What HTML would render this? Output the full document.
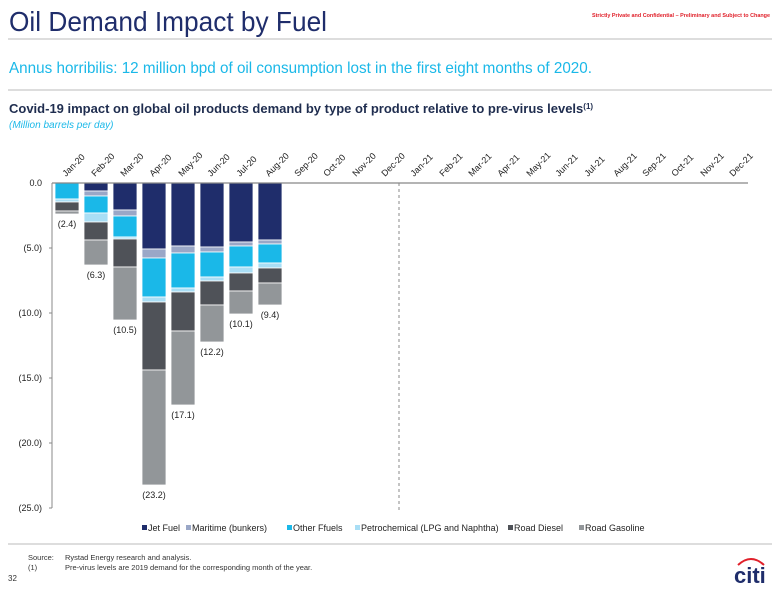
<!DOCTYPE html>
<html><head><meta charset="utf-8"><style>
body{margin:0;background:#fff;width:780px;height:585px;overflow:hidden;font-family:"Liberation Sans",sans-serif}
</style></head><body>
<svg width="780" height="585" xmlns="http://www.w3.org/2000/svg" font-family="Liberation Sans, sans-serif">
<text x="9" y="31" font-size="28" fill="#1f2d6b" textLength="318" lengthAdjust="spacingAndGlyphs">Oil Demand Impact by Fuel</text>
<text x="592" y="17" font-size="5.5" fill="#e0202a" font-weight="bold" textLength="178" lengthAdjust="spacingAndGlyphs">Strictly Private and Confidential – Preliminary and Subject to Change</text>
<line x1="8" y1="39" x2="772" y2="39" stroke="#bbb" stroke-width="1"/>
<text x="9" y="73" font-size="16" fill="#1ab8e8" textLength="583" lengthAdjust="spacingAndGlyphs">Annus horribilis: 12 million bpd of oil consumption lost in the first eight months of 2020.</text>
<line x1="8" y1="90" x2="772" y2="90" stroke="#bbb" stroke-width="1"/>
<text x="9" y="113" font-size="13" font-weight="bold" fill="#1f2d4f">Covid-19 impact on global oil products demand by type of product relative to pre-virus levels<tspan font-size="8" dy="-4">(1)</tspan></text>
<text x="9" y="128" font-size="10" font-style="italic" fill="#1ab8e8">(Million barrels per day)</text>

<g font-size="9" fill="#222">
<text x="42" y="186" text-anchor="end">0.0</text>
<text x="42" y="251" text-anchor="end">(5.0)</text>
<text x="42" y="316" text-anchor="end">(10.0)</text>
<text x="42" y="381" text-anchor="end">(15.0)</text>
<text x="42" y="446" text-anchor="end">(20.0)</text>
<text x="42" y="511" text-anchor="end">(25.0)</text>
</g>
<g stroke="#888" stroke-width="1">
<line x1="52" y1="183" x2="52" y2="508"/>
<line x1="49" y1="248" x2="52" y2="248"/><line x1="49" y1="313" x2="52" y2="313"/><line x1="49" y1="378" x2="52" y2="378"/><line x1="49" y1="443" x2="52" y2="443"/><line x1="49" y1="508" x2="52" y2="508"/>
</g>
<line x1="399" y1="183" x2="399" y2="510" stroke="#888" stroke-dasharray="3,3" stroke-width="1"/>

<g stroke="#fff" stroke-width="0.8">
<rect x="55" y="183" width="24" height="16" fill="#1ab8e8"/>
<rect x="55" y="199" width="24" height="3" fill="#a9def5"/>
<rect x="55" y="202" width="24" height="9" fill="#4f5258"/>
<rect x="55" y="211" width="24" height="3" fill="#929699"/>
<rect x="84" y="183" width="24" height="8" fill="#1f2d6b"/>
<rect x="84" y="191" width="24" height="5" fill="#9aa7c7"/>
<rect x="84" y="196" width="24" height="17" fill="#1ab8e8"/>
<rect x="84" y="213" width="24" height="9" fill="#a9def5"/>
<rect x="84" y="222" width="24" height="18" fill="#4f5258"/>
<rect x="84" y="240" width="24" height="25" fill="#929699"/>
<rect x="113" y="183" width="24" height="27" fill="#1f2d6b"/>
<rect x="113" y="210" width="24" height="6" fill="#9aa7c7"/>
<rect x="113" y="216" width="24" height="21" fill="#1ab8e8"/>
<rect x="113" y="237" width="24" height="2" fill="#a9def5"/>
<rect x="113" y="239" width="24" height="28" fill="#4f5258"/>
<rect x="113" y="267" width="24" height="53" fill="#929699"/>
<rect x="142" y="183" width="24" height="66" fill="#1f2d6b"/>
<rect x="142" y="249" width="24" height="9" fill="#9aa7c7"/>
<rect x="142" y="258" width="24" height="39" fill="#1ab8e8"/>
<rect x="142" y="297" width="24" height="5" fill="#a9def5"/>
<rect x="142" y="302" width="24" height="68" fill="#4f5258"/>
<rect x="142" y="370" width="24" height="115" fill="#929699"/>
<rect x="171" y="183" width="24" height="63" fill="#1f2d6b"/>
<rect x="171" y="246" width="24" height="7" fill="#9aa7c7"/>
<rect x="171" y="253" width="24" height="35" fill="#1ab8e8"/>
<rect x="171" y="288" width="24" height="4" fill="#a9def5"/>
<rect x="171" y="292" width="24" height="39" fill="#4f5258"/>
<rect x="171" y="331" width="24" height="74" fill="#929699"/>
<rect x="200" y="183" width="24" height="64" fill="#1f2d6b"/>
<rect x="200" y="247" width="24" height="5" fill="#9aa7c7"/>
<rect x="200" y="252" width="24" height="25" fill="#1ab8e8"/>
<rect x="200" y="277" width="24" height="4" fill="#a9def5"/>
<rect x="200" y="281" width="24" height="24" fill="#4f5258"/>
<rect x="200" y="305" width="24" height="37" fill="#929699"/>
<rect x="229" y="183" width="24" height="59" fill="#1f2d6b"/>
<rect x="229" y="242" width="24" height="4" fill="#9aa7c7"/>
<rect x="229" y="246" width="24" height="21" fill="#1ab8e8"/>
<rect x="229" y="267" width="24" height="6" fill="#a9def5"/>
<rect x="229" y="273" width="24" height="18" fill="#4f5258"/>
<rect x="229" y="291" width="24" height="23" fill="#929699"/>
<rect x="258" y="183" width="24" height="57" fill="#1f2d6b"/>
<rect x="258" y="240" width="24" height="4" fill="#9aa7c7"/>
<rect x="258" y="244" width="24" height="19" fill="#1ab8e8"/>
<rect x="258" y="263" width="24" height="5" fill="#a9def5"/>
<rect x="258" y="268" width="24" height="15" fill="#4f5258"/>
<rect x="258" y="283" width="24" height="22" fill="#929699"/>
</g>
<line x1="52" y1="183" x2="748" y2="183" stroke="#888" stroke-width="1.2"/>

<g font-size="9" fill="#222" text-anchor="middle">
<text x="67" y="227">(2.4)</text>
<text x="96" y="278">(6.3)</text>
<text x="125" y="333">(10.5)</text>
<text x="154" y="498">(23.2)</text>
<text x="183" y="418">(17.1)</text>
<text x="212" y="355">(12.2)</text>
<text x="241" y="327">(10.1)</text>
<text x="270" y="318">(9.4)</text>
</g>

<g font-size="9" fill="#222">
<text transform="translate(66,177) rotate(-45)">Jan-20</text>
<text transform="translate(95,177) rotate(-45)">Feb-20</text>
<text transform="translate(124,177) rotate(-45)">Mar-20</text>
<text transform="translate(153,177) rotate(-45)">Apr-20</text>
<text transform="translate(182,177) rotate(-45)">May-20</text>
<text transform="translate(211,177) rotate(-45)">Jun-20</text>
<text transform="translate(240,177) rotate(-45)">Jul-20</text>
<text transform="translate(269,177) rotate(-45)">Aug-20</text>
<text transform="translate(298,177) rotate(-45)">Sep-20</text>
<text transform="translate(327,177) rotate(-45)">Oct-20</text>
<text transform="translate(356,177) rotate(-45)">Nov-20</text>
<text transform="translate(385,177) rotate(-45)">Dec-20</text>
<text transform="translate(414,177) rotate(-45)">Jan-21</text>
<text transform="translate(443,177) rotate(-45)">Feb-21</text>
<text transform="translate(472,177) rotate(-45)">Mar-21</text>
<text transform="translate(501,177) rotate(-45)">Apr-21</text>
<text transform="translate(530,177) rotate(-45)">May-21</text>
<text transform="translate(559,177) rotate(-45)">Jun-21</text>
<text transform="translate(588,177) rotate(-45)">Jul-21</text>
<text transform="translate(617,177) rotate(-45)">Aug-21</text>
<text transform="translate(646,177) rotate(-45)">Sep-21</text>
<text transform="translate(675,177) rotate(-45)">Oct-21</text>
<text transform="translate(704,177) rotate(-45)">Nov-21</text>
<text transform="translate(733,177) rotate(-45)">Dec-21</text>
</g>

<g font-size="9" fill="#222">
<rect x="142" y="525" width="5" height="5" fill="#1f2d6b"/><text x="148" y="531">Jet Fuel</text>
<rect x="186" y="525" width="5" height="5" fill="#9aa7c7"/><text x="192" y="531">Maritime (bunkers)</text>
<rect x="287" y="525" width="5" height="5" fill="#1ab8e8"/><text x="293" y="531">Other Ffuels</text>
<rect x="355" y="525" width="5" height="5" fill="#a9def5"/><text x="361" y="531">Petrochemical (LPG and Naphtha)</text>
<rect x="508" y="525" width="5" height="5" fill="#4f5258"/><text x="514" y="531">Road Diesel</text>
<rect x="579" y="525" width="5" height="5" fill="#929699"/><text x="585" y="531">Road Gasoline</text>
</g>

<line x1="8" y1="544" x2="772" y2="544" stroke="#bbb" stroke-width="1"/>
<g font-size="7.5" fill="#333">
<text x="28" y="560">Source:</text><text x="65" y="560">Rystad Energy research and analysis.</text>
<text x="28" y="570">(1)</text><text x="65" y="570">Pre-virus levels are 2019 demand for the corresponding month of the year.</text>
<text x="8" y="581" font-size="8">32</text>
</g>
<path d="M738 565 Q751 553 764 565" fill="none" stroke="#e0202a" stroke-width="2"/>
<text x="734" y="583" font-size="22" font-weight="bold" fill="#1f2d6b">citi</text>
</svg>
</body></html>
